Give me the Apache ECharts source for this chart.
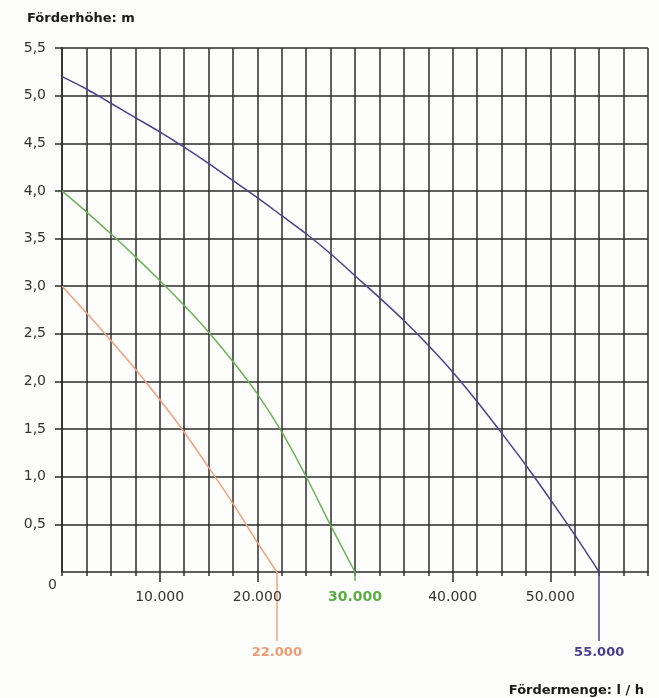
<!DOCTYPE html>
<html>
<head>
<meta charset="utf-8">
<script src="https://cdn.jsdelivr.net/npm/echarts@6/dist/echarts.min.js"></script>
<style>
html,body{margin:0;padding:0;background:#fdfdfb;}
#chart{width:659px;height:698px;}
</style>
</head>
<body>
<div id="chart"></div>
<script>
// ---- data ----
const flowOrange = [0, 2500, 5000, 7500, 10000, 12500, 15000, 17500, 20000, 22000];
const headOrange = [3.0, 2.72, 2.43, 2.13, 1.81, 1.47, 1.10, 0.72, 0.31, 0];
const flowGreen = [0, 2500, 5000, 7500, 10000, 12500, 15000, 17500, 20000, 22500, 25000, 27500, 30000];
const headGreen = [4.0, 3.78, 3.55, 3.31, 3.06, 2.80, 2.52, 2.21, 1.87, 1.47, 1.00, 0.49, 0];
const flowBlue = [0, 2500, 5000, 7500, 10000, 12500, 15000, 17500, 20000, 22500, 25000, 27500, 30000, 32500, 35000, 37500, 40000, 42500, 45000, 47500, 50000, 52500, 55000];
const headBlue = [5.2, 5.07, 4.92, 4.77, 4.62, 4.46, 4.29, 4.11, 3.93, 3.74, 3.55, 3.34, 3.11, 2.88, 2.64, 2.38, 2.10, 1.79, 1.46, 1.12, 0.76, 0.39, 0];
const xMajorTicks = [10000, 20000, 40000, 50000];
const xLabelValues = [10000, 20000, 30000, 40000, 50000];
const yLabelValues = [0.5, 1.0, 1.5, 2.0, 2.5, 3.0, 3.5, 4.0, 4.5, 5.0, 5.5];
const maxFlowOrange = 22000, maxFlowGreen = 30000, maxFlowBlue = 55000;
const yTitle = 'Förderhöhe: m';
const xTitle = 'Fördermenge: l / h';

// ---- styles ----
const cOrange = '#f0a07c', cGreen = '#6ab356', cBlue = '#4b408f';
const lOrange = '#ee9a72', lGreen = '#5aaf42', lBlue = '#4c3e8e';
const gridColor = '#2b2b2b';
const font = 'DejaVu Sans';

function fmtThousands(v) {
  return String(v).replace(/\B(?=(\d{3})+(?!\d))/g, '.');
}
function zip(xs, ys) { return xs.map((x, i) => [x, ys[i]]); }

const chart = echarts.init(document.getElementById('chart'), null, {renderer: 'canvas'});

const xBase = {type: 'value', min: 0, max: 60000, position: 'bottom', gridIndex: 0,
  splitLine: {show: false}, axisLine: {show: false}};

const option = {
  backgroundColor: '#fdfdfb',
  animation: false,
  title: [
    {text: yTitle, left: 22, top: 7, textStyle: {fontFamily: font, fontWeight: 'bold', fontSize: 13, color: '#1a1a1a'}},
    {text: xTitle, right: 10, top: 679, textStyle: {fontFamily: font, fontWeight: 'bold', fontSize: 13, color: '#1a1a1a'}}
  ],
  grid: {left: 62, right: 11, top: 48, bottom: 126, containLabel: false},
  xAxis: [
    Object.assign({}, xBase, {
      interval: 2500,
      axisLine: {show: true, lineStyle: {color: gridColor, width: 1.5}},
      splitLine: {show: true, lineStyle: {color: gridColor, width: 1.5}},
      axisTick: {show: true, length: 4, lineStyle: {color: gridColor, width: 1.5}},
      axisLabel: {show: false}
    }),
    Object.assign({}, xBase, {
      axisTick: {show: true, length: 10, customValues: xMajorTicks, lineStyle: {color: gridColor, width: 1.5}},
      axisLabel: {show: true, customValues: xLabelValues, margin: 18,
        fontFamily: font, fontSize: 14, color: '#333333',
        formatter: v => v === maxFlowGreen ? '{g|' + fmtThousands(v) + '}' : fmtThousands(v),
        rich: {g: {fontFamily: font, fontSize: 14, fontWeight: 'bold', color: lGreen}}}
    }),
    Object.assign({}, xBase, {
      axisTick: {show: true, length: 9, customValues: [maxFlowGreen], lineStyle: {color: cGreen, width: 1.5}},
      axisLabel: {show: false}
    }),
    Object.assign({}, xBase, {
      axisTick: {show: true, length: 69, customValues: [maxFlowOrange], lineStyle: {color: cOrange, width: 1.5}},
      axisLabel: {show: true, customValues: [maxFlowOrange], margin: 74,
        fontFamily: font, fontSize: 13, fontWeight: 'bold', color: lOrange,
        formatter: v => fmtThousands(v)}
    }),
    Object.assign({}, xBase, {
      axisTick: {show: true, length: 69, customValues: [maxFlowBlue], lineStyle: {color: cBlue, width: 1.5}},
      axisLabel: {show: true, customValues: [maxFlowBlue], margin: 74,
        fontFamily: font, fontSize: 13, fontWeight: 'bold', color: lBlue,
        formatter: v => fmtThousands(v)}
    })
  ],
  yAxis: [
    {type: 'value', min: 0, max: 5.5, interval: 0.25, position: 'left',
      axisLine: {show: true, lineStyle: {color: gridColor, width: 1.5}},
      splitLine: {show: true, lineStyle: {color: gridColor, width: 1.5}},
      axisTick: {show: true, length: 7, customValues: yLabelValues, lineStyle: {color: gridColor, width: 1.5}},
      axisLabel: {show: true, customValues: yLabelValues, margin: 16, fontFamily: font, fontSize: 14, color: '#333333',
        formatter: v => v.toFixed(1).replace('.', ',')}
    },
    {type: 'value', min: 0, max: 5.5, position: 'left', offset: 0,
      axisLine: {show: false}, splitLine: {show: false}, axisTick: {show: false},
      axisLabel: {show: true, customValues: [0], margin: 5,
        formatter: v => '{z|' + v + '}',
        rich: {z: {fontFamily: font, fontSize: 14, color: '#333333', padding: [27, 0, 0, 0]}}}
    }
  ],
  series: [
    {type: 'line', name: '22.000', data: zip(flowOrange, headOrange), xAxisIndex: 0, yAxisIndex: 0,
      showSymbol: false, smooth: 0.3, lineStyle: {color: cOrange, width: 1.5}, z: 5},
    {type: 'line', name: '30.000', data: zip(flowGreen, headGreen), xAxisIndex: 0, yAxisIndex: 0,
      showSymbol: false, smooth: 0.3, lineStyle: {color: cGreen, width: 1.5}, z: 5},
    {type: 'line', name: '55.000', data: zip(flowBlue, headBlue), xAxisIndex: 0, yAxisIndex: 0,
      showSymbol: false, smooth: 0.3, lineStyle: {color: cBlue, width: 1.5}, z: 5}
  ]
};
chart.setOption(option);
</script>
</body>
</html>
